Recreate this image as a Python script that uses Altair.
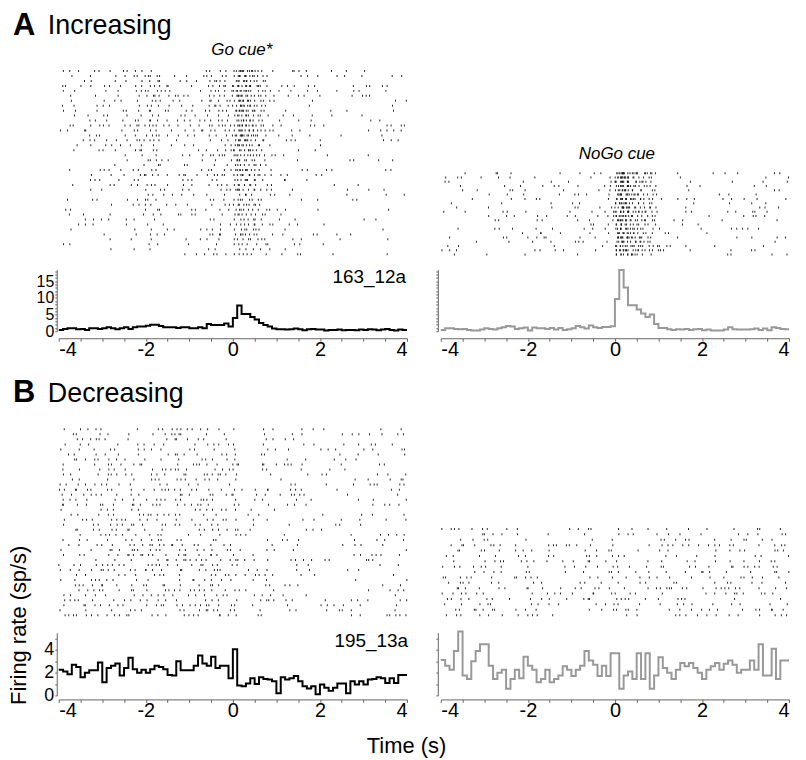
import altair as alt
import pandas as pd

BIN = 0.1
T0 = -4.0

# PSTH values (sp/s), 80 bins of 0.1 s from -4 to 4
a_go = [0.4, 0.7, 0.9, 0.9, 0.6, 0.7, 0.4, 0.9, 0.9, 0.7,
        0.9, 1.2, 0.9, 0.6, 0.9, 1.2, 0.7, 1.2, 1.4, 1.4,
        1.65, 1.95, 1.95, 1.55, 1.2, 1.2, 1.2, 1.0, 1.2, 1.2,
        0.9, 0.9, 1.2, 0.9, 2.2, 1.85, 1.85, 1.85, 2.3, 1.4,
        4.0, 7.7, 5.2, 5.2, 4.3, 3.5, 2.5, 1.85, 1.4, 0.8,
        0.6, 0.6, 0.5, 0.6, 0.8, 0.6, 0.3, 0.6, 0.7, 0.5,
        0.5, 0.2, 0.4, 0.4, 0.5, 0.3, 0.4, 0.4, 0.3, 0.5,
        0.4, 0.6, 0.5, 0.3, 0.5, 0.7, 0.4, 0.2, 0.5, 0.4]
a_nogo = [0.4, 0.9, 0.9, 0.7, 0.6, 0.7, 0.4, 0.2, 0.2, 0.5,
          0.9, 0.7, 0.5, 0.9, 1.2, 1.6, 1.4, 0.7, 0.9, 1.1,
          0.2, 1.1, 0.9, 0.9, 0.7, 1.0, 0.5, 1.0, 0.4, 0.6,
          0.9, 1.6, 1.2, 0.8, 1.7, 1.2, 1.0, 1.3, 1.3, 1.5,
          9.7, 18.4, 13.1, 7.8, 7.8, 6.5, 5.3, 4.3, 5.0, 2.2,
          1.0, 1.0, 0.6, 0.4, 0.6, 0.5, 0.7, 0.4, 0.6, 0.7,
          0.3, 0.5, 0.2, 0.2, 0.2, 0.5, 1.2, 0.6, 0.5, 0.5,
          0.5, 0.6, 0.8, 0.4, 0.8, 0.3, 1.2, 1.0, 0.7, 0.6]
b_go = [2.26, 2.1, 1.85, 2.7, 2.5, 1.6, 2.0, 2.2, 2.2, 2.9,
        1.16, 2.4, 2.6, 2.8, 1.74, 2.4, 3.3, 2.3, 2.0, 2.26,
        2.0, 2.3, 2.6, 2.5, 2.3, 1.8, 1.74, 3.0, 2.2, 2.2,
        2.2, 2.6, 3.5, 2.8, 2.6, 3.4, 2.4, 2.6, 2.6, 1.5,
        4.06, 0.87, 0.8, 1.04, 1.5, 1.0, 1.6, 1.45, 1.4, 1.25,
        0.2, 1.6, 1.4, 1.5, 1.7, 1.25, 0.8, 0.6, 0.8, 0.1,
        0.96, 0.67, 0.4, 0.67, 1.04, 1.04, 0.2, 1.25, 0.96, 1.25,
        0.96, 1.4, 1.45, 1.6, 1.5, 1.1, 1.5, 1.1, 1.8, 1.8]
b_nogo = [3.1, 2.6, 2.26, 3.9, 5.6, 1.74, 1.45, 3.0, 3.9, 4.5,
          4.5, 2.6, 1.45, 2.0, 2.26, 0.58, 1.45, 2.26, 1.5, 3.4,
          2.6, 2.26, 1.16, 1.45, 2.26, 1.16, 1.45, 1.74, 2.55, 2.26,
          1.7, 2.26, 2.6, 3.9, 3.07, 2.7, 1.7, 2.6, 1.7, 3.7,
          3.7, 0.58, 1.74, 2.1, 1.45, 3.7, 1.45, 3.7, 0.58, 1.74,
          3.36, 2.4, 2.0, 1.45, 2.26, 2.84, 2.55, 2.84, 2.4, 2.0,
          1.45, 2.26, 2.55, 2.84, 2.26, 2.78, 3.07, 2.7, 2.0, 2.26,
          2.26, 3.07, 2.26, 4.5, 1.74, 1.74, 4.1, 1.45, 3.07, 3.07]

# relative spike density of each raster row (top row first)
w_a_go = [1.3, 1.4, 1.2, 1.5, 1.3, 1.4, 1.2, 1.3, 1.5, 1.2,
          1.3, 1.4, 1.1, 1.2, 1.3, 1.0, 1.1, 1.2, 1.0, 0.9,
          1.1, 1.0, 0.8, 0.9, 1.0, 0.8, 0.7, 0.9, 0.8, 0.7,
          0.8, 0.6, 0.7, 0.8, 0.6, 0.7, 0.6, 0.7]
w_a_nogo = [1.3, 1.2, 1.0, 1.1, 0.9, 1.0, 1.2, 0.9, 1.0, 1.1,
            0.9, 1.0, 0.8, 1.0, 0.9, 1.1, 0.8, 0.9, 1.0, 0.8]
w_b_go = [1.0, 1.1, 0.9, 1.0, 1.2, 1.0, 0.9, 1.1, 1.0, 1.2,
          1.0, 0.9, 1.1, 1.0, 1.2, 1.1, 0.9, 1.0, 1.1, 1.0,
          1.2, 1.0, 0.9, 1.1, 1.0, 1.0, 1.2, 0.9, 1.1, 1.0,
          1.0, 0.9, 1.2, 1.0, 1.1, 1.3, 1.2, 1.3]
w_b_nogo = [0.8, 0.9, 0.8, 1.0, 1.0, 1.1, 0.9, 1.2, 1.0, 1.1,
            1.2, 1.0, 1.1, 1.2, 1.0, 1.3, 1.1]

gain = {"a_go": 2.8, "a_nogo": 2.1, "b_go": 1.6, "b_nogo": 1.25}

x_ticks = [-4 + 0.5 * k for k in range(17)]
FONT = "Liberation Sans"


def mix(a, b, c):
    # deterministic integer hash -> [0, 1), used to dither spike placement
    x = (a * 73856093) ^ (b * 19349663) ^ (c * 83492791)
    x &= 0xFFFFFFFF
    x = ((x ^ (x >> 15)) * 2246822519) & 0xFFFFFFFF
    x = ((x ^ (x >> 13)) * 3266489917) & 0xFFFFFFFF
    x ^= x >> 16
    return x / 4294967296.0


def psth_df(rates):
    t = [T0 + BIN * i for i in range(len(rates))] + [T0 + BIN * len(rates)]
    r = list(rates) + [rates[-1]]
    return pd.DataFrame({"t": t, "r": r})


def raster_df(rates, weights, g, seed):
    # each row follows the PSTH profile scaled by the row's density
    out = []
    for j, w in enumerate(weights):
        for i, r in enumerate(rates):
            lam = r * BIN * g * w
            cnt = int(lam + mix(seed, j, i))
            for k in range(cnt):
                u = mix(seed + 7, j * 131 + k, i)
                out.append({"t": T0 + BIN * (i + u), "trial": j + 0.5})
    return pd.DataFrame(out)


def label(txt, x, y, size, weight="normal", style="normal", align="left"):
    return alt.Chart(pd.DataFrame({"s": [txt]})).mark_text(
        align=align, baseline="alphabetic", fontSize=size, fontWeight=weight,
        fontStyle=style, font=FONT, color="black"
    ).encode(text="s:N", x=alt.value(x), y=alt.value(y))


def raster(rates, weights, g, seed, height, rng, extra=None):
    n = len(weights)
    df = raster_df(rates, weights, g, seed)
    base = alt.Chart(df).mark_tick(orient="vertical", size=2, thickness=1,
                                   color="#111111", opacity=0.9).encode(
        x=alt.X("t:Q", scale=alt.Scale(domain=[-4, 4]), axis=None),
        y=alt.Y("trial:Q", scale=alt.Scale(domain=[0, n], range=rng), axis=None),
    )
    layers = [base] + (extra or [])
    return alt.layer(*layers).properties(width=350, height=height)


def psth(rates, color, ymax, yvals, ylab_every, show_labels, xoff, height,
         ylab_size=18, title_y=None, title_x=None, extra=None):
    df = psth_df(rates)
    ykw = dict(grid=False, tickSize=2, domainColor="#666", tickColor="#666",
               labelFontSize=ylab_size, labelPadding=1,
               offset=2 if show_labels else 3,
               labelOverlap=False, title=None)
    if show_labels:
        ykw["labelExpr"] = f"datum.value % {ylab_every} === 0 ? '' + datum.value : ''"
    else:
        ykw["labels"] = False
    if title_y:
        ykw.update(title=title_y, titleFontSize=22, titleFontWeight="normal",
                   titleFont=FONT, titleX=-31, titleY=-8,
                   titleAngle=-90, titleBaseline="alphabetic", titleAlign="center")
    xkw = dict(grid=False, tickSize=3, domainColor="#666", tickColor="#666",
               labelFontSize=20, labelPadding=-2, offset=xoff, title=None,
               labelOverlap=False,
               labelExpr="datum.value % 2 === 0 ? '' + datum.value : ''")
    if title_x:
        xkw.update(title=title_x, titleFontSize=22, titleFontWeight="normal",
                   titleFont=FONT, titleX=349, titleY=53,
                   titleBaseline="alphabetic", titleAlign="center")
    line = alt.Chart(df).mark_line(interpolate="step-after", color=color,
                                   strokeWidth=2).encode(
        x=alt.X("t:Q", scale=alt.Scale(domain=[-4, 4], nice=False),
                axis=alt.Axis(values=x_ticks, **xkw)),
        y=alt.Y("r:Q", scale=alt.Scale(domain=[0, ymax], nice=False),
                axis=alt.Axis(values=yvals, **ykw)),
    )
    layers = [line] + (extra or [])
    return alt.layer(*layers).properties(width=350, height=height)


rA_go = raster(a_go, w_a_go, gain["a_go"], 11, 190, [1, 190], extra=[
    label("A", -46, -33, 31, weight="bold"),
    label("Increasing", -11, -34, 27),
    label("Go cue*", 184, -13, 17, style="italic", align="center"),
])
rA_nogo = raster(a_nogo, w_a_nogo, gain["a_nogo"], 23, 190, [104, 190], extra=[
    label("NoGo cue", 177, 92, 17, style="italic", align="center"),
])
pA_go = psth(a_go, "black", 18.5, list(range(0, 19)), 5, True, 7, 62, ylab_size=16,
             extra=[label("163_12a", 349, 13, 19, align="right")])
pA_nogo = psth(a_nogo, "#999999", 18.5, list(range(0, 19)), 5, False, 7, 62)

rB_go = raster(b_go, w_b_go, gain["b_go"], 37, 277, [83, 275], extra=[
    label("B", -46, 58, 31, weight="bold"),
    label("Decreasing", -11, 58, 27),
])
rB_nogo = raster(b_nogo, w_b_nogo, gain["b_nogo"], 53, 277, [183, 275])
pB_go = psth(b_go, "black", 5.5, [0, 1, 2, 3, 4, 5], 2, True, 4, 63,
             title_y="Firing rate (sp/s)", title_x="Time (s)",
             extra=[label("195_13a", 351, 14, 19, align="right")])
pB_nogo = psth(b_nogo, "#999999", 5.5, [0, 1, 2, 3, 4, 5], 2, False, 4, 63)

chart = alt.concat(
    rA_go, rA_nogo, pA_go, pA_nogo, rB_go, rB_nogo, pB_go, pB_nogo,
    columns=2, spacing={"row": 13, "column": 34}, bounds="flush",
).properties(
    padding={"left": 0, "top": 0, "right": 5, "bottom": 5}
).configure_view(stroke=None).configure_axis(
    labelFont=FONT, labelColor="black"
)

chart.save("out.html", embed_options={"renderer": "svg", "actions": False})
